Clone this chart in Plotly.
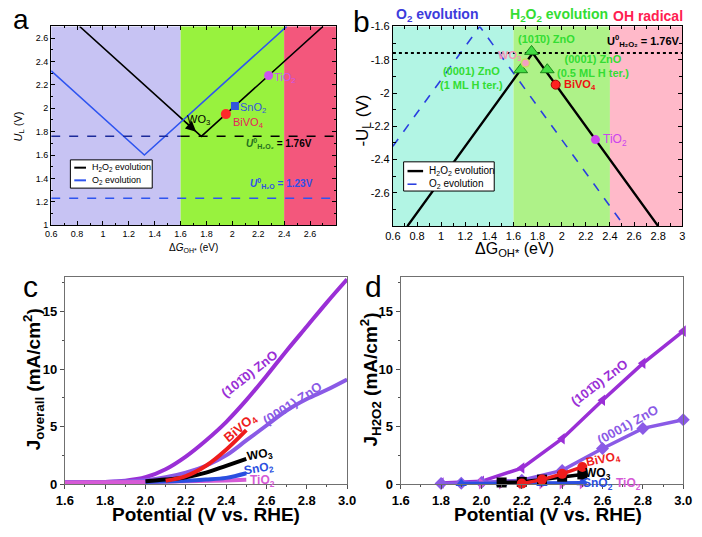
import plotly.graph_objects as go

# ---------------- data ----------------
# Panel a : limiting potential vs dG_OH*
a_h2o2_dG = [0.82, 1.76, 2.70]
a_h2o2_UL = [2.70, 1.76, 2.70]
a_o2_dG = [0.60, 1.32, 2.42]
a_o2_UL = [2.32, 1.60, 2.70]
a_mat_names = ["BiVO4", "SnO2", "TiO2"]
a_mat_dG = [1.95, 2.02, 2.28]
a_mat_UL = [1.95, 2.02, 2.28]
a_wo3_dG = 1.72
a_wo3_UL = 1.80
U0_H2O2 = 1.76
U0_H2O = 1.23
region_edges = [0.6, 1.6, 2.4, 3.0]

# Panel b : -U_L vs dG_OH*
b_h2o2_dG = [0.72, 1.76, 2.80]
b_h2o2_negUL = [-2.80, -1.76, -2.80]
b_o2_dG = [0.60, 1.32, 2.52]
b_o2_negUL = [-2.32, -1.60, -2.80]
b_zno_dG = [1.75, 1.66, 1.88]
b_zno_negUL = [-1.75, -1.86, -1.86]
b_wo3 = (1.70, -1.82)
b_bivo4 = (1.95, -1.95)
b_tio2 = (2.28, -2.28)

# Panel c : J_overall vs potential
c_1010_V = [1.6, 1.7, 1.8, 1.9, 2.0, 2.1, 2.2, 2.3, 2.4, 2.5, 2.6, 2.7, 2.8, 2.9, 3.0]
c_1010_J = [0.2, 0.2, 0.2, 0.3, 0.6, 1.3, 2.4, 3.8, 5.4, 7.3, 9.4, 11.6, 13.7, 15.8, 17.8]
c_0001_V = [1.6, 1.7, 1.8, 1.9, 2.0, 2.1, 2.2, 2.3, 2.4, 2.5, 2.6, 2.7, 2.8, 2.9, 3.0]
c_0001_J = [0.2, 0.2, 0.2, 0.25, 0.35, 0.6, 1.0, 1.6, 2.5, 3.8, 5.1, 6.4, 7.4, 8.2, 9.1]
c_bivo4_V = [2.1, 2.2, 2.3, 2.4, 2.5]
c_bivo4_J = [0.3, 0.7, 1.6, 3.0, 4.7]
c_wo3_V = [2.0, 2.1, 2.2, 2.3, 2.4, 2.5]
c_wo3_J = [0.25, 0.4, 0.6, 1.0, 1.6, 2.2]
c_sno2_V = [2.0, 2.2, 2.3, 2.4, 2.5]
c_sno2_J = [0.2, 0.3, 0.4, 0.55, 0.95]
c_tio2_V = [1.6, 2.0, 2.2, 2.4, 2.5]
c_tio2_J = [0.15, 0.2, 0.25, 0.33, 0.38]

# Panel d : J_H2O2 vs potential
d_1010_V = [1.8, 2.0, 2.2, 2.4, 2.6, 2.8, 3.0]
d_1010_J = [0.1, 0.25, 1.4, 3.95, 7.3, 10.5, 13.3]
d_0001_V = [1.8, 1.9, 2.0, 2.2, 2.4, 2.6, 2.8, 3.0]
d_0001_J = [0.05, 0.08, 0.15, 0.35, 1.2, 3.1, 4.85, 5.6]
d_bivo4_V = [2.2, 2.3, 2.4, 2.5]
d_bivo4_J = [0.05, 0.4, 0.9, 1.5]
d_wo3_V = [2.1, 2.2, 2.3, 2.4, 2.5]
d_wo3_J = [0.15, 0.2, 0.4, 0.65, 0.85]
d_sno2_V = [1.9, 2.1, 2.3, 2.5]
d_sno2_J = [0.05, 0.05, 0.05, 0.12]
d_tio2_V = [2.0, 2.1, 2.2, 2.3, 2.4, 2.5]
d_tio2_J = [0.05, 0.05, 0.05, 0.05, 0.05, 0.05]

# ---------------- styles ----------------
W, H = 702, 537
def px(x):
    return x / W
def py(y):
    return 1 - y / H

PURPLE = "#9a2fd6"
VIOLET = "#8a5ae6"
RED = "#ee1c1c"
BLUE = "#2a4fe0"
MAG = "#d65ad6"
GREEN_B = "#33dd33"
FAM = "Liberation Sans, Arial"

fig = go.Figure()

# ---- panel a ----
fig.add_trace(go.Scatter(x=a_h2o2_dG, y=a_h2o2_UL, mode="lines", line=dict(color="black", width=1.6),
                         showlegend=False, xaxis="x", yaxis="y"))
fig.add_trace(go.Scatter(x=a_o2_dG, y=a_o2_UL, mode="lines", line=dict(color="#2f55f0", width=1.6),
                         showlegend=False, xaxis="x", yaxis="y"))
fig.add_trace(go.Scatter(x=[region_edges[0], region_edges[1]], y=[U0_H2O2, U0_H2O2], mode="lines",
                         line=dict(color="#1c2a9a", width=1.4, dash="dash"), showlegend=False, xaxis="x", yaxis="y"))
fig.add_trace(go.Scatter(x=[region_edges[1], 2.8], y=[U0_H2O2, U0_H2O2], mode="lines",
                         line=dict(color="black", width=1.4, dash="dash"), showlegend=False, xaxis="x", yaxis="y"))
fig.add_trace(go.Scatter(x=[region_edges[0], 2.8], y=[U0_H2O, U0_H2O], mode="lines",
                         line=dict(color="#2f55f0", width=1.4, dash="dash"), showlegend=False, xaxis="x", yaxis="y"))
a_colors = ["#ff2a2a", "#3355dd", "#cc55ee"]
a_symbols = ["circle", "square", "circle"]
a_sizes = [10, 8, 9]
for i in range(3):
    fig.add_trace(go.Scatter(x=[a_mat_dG[i]], y=[a_mat_UL[i]], mode="markers",
                             marker=dict(color=a_colors[i], symbol=a_symbols[i], size=a_sizes[i]),
                             showlegend=False, xaxis="x", yaxis="y"))

# ---- panel b ----
fig.add_trace(go.Scatter(x=b_h2o2_dG, y=b_h2o2_negUL, mode="lines", line=dict(color="black", width=2.4),
                         showlegend=False, xaxis="x2", yaxis="y2"))
fig.add_trace(go.Scatter(x=b_o2_dG, y=b_o2_negUL, mode="lines", line=dict(color="#2a3fe0", width=1.6, dash="dash"),
                         showlegend=False, xaxis="x2", yaxis="y2"))
fig.add_trace(go.Scatter(x=[0.6, 3.0], y=[-U0_H2O2, -U0_H2O2], mode="lines",
                         line=dict(color="black", width=2, dash="dot"), showlegend=False, xaxis="x2", yaxis="y2"))
fig.add_trace(go.Scatter(x=b_zno_dG, y=b_zno_negUL, mode="markers",
                         marker=dict(color="#44dd44", symbol="triangle-up", size=12, line=dict(color="#1a8a1a", width=1)),
                         showlegend=False, xaxis="x2", yaxis="y2"))
fig.add_trace(go.Scatter(x=[b_wo3[0]], y=[b_wo3[1]], mode="markers",
                         marker=dict(color="#f4a0c0", symbol="circle", size=8, line=dict(color="#c8e060", width=1.5)),
                         showlegend=False, xaxis="x2", yaxis="y2"))
fig.add_trace(go.Scatter(x=[b_bivo4[0]], y=[b_bivo4[1]], mode="markers",
                         marker=dict(color="#ff2020", symbol="circle", size=9, line=dict(color="#a00000", width=1)),
                         showlegend=False, xaxis="x2", yaxis="y2"))
fig.add_trace(go.Scatter(x=[b_tio2[0]], y=[b_tio2[1]], mode="markers",
                         marker=dict(color="#cc44ee", symbol="circle", size=9),
                         showlegend=False, xaxis="x2", yaxis="y2"))

# ---- panel c ----
c_series = [
    (c_1010_V, c_1010_J, PURPLE),
    (c_0001_V, c_0001_J, VIOLET),
    (c_tio2_V, c_tio2_J, MAG),
    (c_sno2_V, c_sno2_J, BLUE),
    (c_wo3_V, c_wo3_J, "black"),
    (c_bivo4_V, c_bivo4_J, RED),
]
for xs, ys, col in c_series:
    fig.add_trace(go.Scatter(x=xs, y=ys, mode="lines", line=dict(color=col, width=4, shape="spline"),
                             showlegend=False, xaxis="x3", yaxis="y3", cliponaxis=False))

# ---- panel d ----
d_series = [
    (d_1010_V, d_1010_J, PURPLE, "triangle-left"),
    (d_0001_V, d_0001_J, VIOLET, "diamond"),
    (d_tio2_V, d_tio2_J, MAG, "triangle-right"),
    (d_sno2_V, d_sno2_J, BLUE, "triangle-up"),
    (d_wo3_V, d_wo3_J, "black", "square"),
    (d_bivo4_V, d_bivo4_J, RED, "circle"),
]
for xs, ys, col, sym in d_series:
    fig.add_trace(go.Scatter(x=xs, y=ys, mode="lines+markers", line=dict(color=col, width=3.5),
                             marker=dict(color=col, symbol=sym, size=10),
                             showlegend=False, xaxis="x4", yaxis="y4", cliponaxis=False))

# ---------------- background regions ----------------
shapes = []
a_fill = ["#c7c3f3", "#98f23e", "#f3577c"]
b_fill = ["#b2f5e4", "#aef288", "#ffb9c9"]
for i in range(3):
    shapes.append(dict(type="rect", xref="x", yref="y domain", x0=region_edges[i], x1=region_edges[i + 1],
                       y0=0, y1=1, fillcolor=a_fill[i], line=dict(width=0), layer="below"))
    shapes.append(dict(type="rect", xref="x2", yref="y2 domain", x0=region_edges[i], x1=region_edges[i + 1],
                       y0=0, y1=1, fillcolor=b_fill[i], line=dict(width=0), layer="below"))

# ---------------- annotations ----------------
ann = []
def A(x, y, text, xref, yref, size, color="black", bold=False, angle=0, xanchor="center", **kw):
    f = dict(size=size, color=color, family=FAM)
    if bold:
        f["weight"] = "bold"
    d = dict(x=x, y=y, xref=xref, yref=yref, text=text, showarrow=False, font=f, textangle=angle,
             xanchor=xanchor, yanchor="middle")
    d.update(kw)
    ann.append(d)

# manual legends (box + sample lines + text)
def legend_box(x0, y0, x1, y1, items, fsize, seg):
    shapes.append(dict(type="rect", xref="paper", yref="paper", x0=px(x0), x1=px(x1), y0=py(y1), y1=py(y0),
                       fillcolor="white", line=dict(color="black", width=1), layer="above"))
    for (yy, color, dash, width, label) in items:
        shapes.append(dict(type="line", xref="paper", yref="paper", x0=px(x0 + 4), x1=px(x0 + 4 + seg),
                           y0=py(yy), y1=py(yy), line=dict(color=color, width=width, dash=dash), layer="above"))
        A(px(x0 + 8 + seg), py(yy), label, "paper", "paper", fsize, xanchor="left")

legend_box(63, 158, 147, 187, [
    (166, "black", "solid", 2, "H<sub>2</sub>O<sub>2</sub> evolution"),
    (179, "#2f55f0", "solid", 2, "O<sub>2</sub> evolution"),
], 9, 12)
legend_box(405, 160, 498, 190, [
    (169.5, "black", "solid", 2.4, "H<sub>2</sub>O<sub>2</sub> evolution"),
    (183, "#2a3fe0", "dash", 1.6, "O<sub>2</sub> evolution"),
], 10, 16)

# panel letters
A(px(12), py(14), "a", "paper", "paper", 28)
A(px(362), py(16), "b", "paper", "paper", 30)
A(px(22), py(288), "c", "paper", "paper", 30)
A(px(374), py(288), "d", "paper", "paper", 30)

# panel a texts
A(2.045, 2.00, "SnO<sub>2</sub>", "x", "y", 11, "#3355dd", xanchor="left")
A(1.99, 1.875, "BiVO<sub>4</sub>", "x", "y", 11, "#e8205a", xanchor="left")
A(2.305, 2.255, "TiO<sub>2</sub>", "x", "y", 11, "#cc55ee", xanchor="left")
A(1.74, 1.90, "WO<sub>3</sub>", "x", "y", 11, "black")
ann.append(dict(x=a_wo3_dG, y=a_wo3_UL, ax=1.63, ay=1.89, xref="x", yref="y", axref="x", ayref="y",
                text="", showarrow=True, arrowhead=2, arrowsize=1.6, arrowwidth=1.3, arrowcolor="black"))
A(2.36, 1.695, "<span style='color:#1f6e1f'><i>U</i><sup>0</sup><sub>H₂O₂</sub></span> = 1.76V", "x", "y", 10, "black", bold=True)
A(2.38, 1.355, "<i>U</i><sup>0</sup><sub>H₂O</sub> = 1.23V", "x", "y", 10, "#2f4fe8", bold=True)
A(px(189), py(248), "Δ<i>G</i><sub>OH*</sub> (eV)", "paper", "paper", 10)
A(px(10), py(124), "<i>U</i><sub>L</sub> (V)", "paper", "paper", 11, angle=-90)

# panel b texts
A(px(439), py(9), "O<sub>2</sub> evolution", "paper", "paper", 14, "#3c3cdc", bold=True)
A(px(564), py(9), "H<sub>2</sub>O<sub>2</sub> evolution", "paper", "paper", 14, GREEN_B, bold=True)
A(px(656), py(10), "OH radical", "paper", "paper", 14, "#ff2050", bold=True)
A(1.87, -1.675, "(101\u03040) ZnO", "x2", "y2", 11, GREEN_B, bold=True)
A(1.25, -1.91, "(0001) ZnO<br>(1 ML H ter.)", "x2", "y2", 11, GREEN_B, bold=True)
A(2.26, -1.835, "(0001) ZnO<br>(0.5 ML H ter.)", "x2", "y2", 11, GREEN_B, bold=True)
A(1.57, -1.775, "WO<sub>3</sub>", "x2", "y2", 11, "#f59ab8", bold=True)
A(2.15, -1.95, "BiVO<sub>4</sub>", "x2", "y2", 11, "#ee1111", bold=True)
A(2.44, -2.28, "TiO<sub>2</sub>", "x2", "y2", 12, "#cc44ee")
A(2.68, -1.69, "U<sup>0</sup><sub>H₂O₂</sub> = 1.76V", "x2", "y2", 11, "black", bold=True)
A(px(519), py(250), "ΔG<sub>OH*</sub> (eV)", "paper", "paper", 16)
A(px(364), py(118), "-U<sub>L</sub> (V)", "paper", "paper", 17, angle=-90)

# panel c texts
A(2.518, 9.6, "(101\u03040) ZnO", "x3", "y3", 13, PURPLE, bold=True, angle=-38)
A(2.728, 7.0, "(0001) ZnO", "x3", "y3", 13, VIOLET, bold=True, angle=-33)
A(2.476, 4.9, "BiVO<sub>4</sub>", "x3", "y3", 13, RED, bold=True, angle=-40)
A(2.57, 2.55, "WO<sub>3</sub>", "x3", "y3", 12, "black", bold=True, angle=-10)
A(2.565, 1.35, "SnO<sub>2</sub>", "x3", "y3", 12, BLUE, bold=True, angle=-10)
A(2.58, 0.25, "TiO<sub>2</sub>", "x3", "y3", 12, MAG, bold=True)
A(px(202), py(522), "Potential (V vs. RHE)", "paper", "paper", 19, bold=True)
A(px(25), py(383), "J<sub>overall</sub> (mA/cm<sup>2</sup>)", "paper", "paper", 19, bold=True, angle=-90)

# panel d texts
A(2.585, 8.8, "(101\u03040) ZnO", "x4", "y4", 13, PURPLE, bold=True, angle=-37)
A(2.726, 5.2, "(0001) ZnO", "x4", "y4", 13, VIOLET, bold=True, angle=-29)
A(2.60, 2.1, "BiVO<sub>4</sub>", "x4", "y4", 12, RED, bold=True, angle=-12)
A(2.58, 0.85, "WO<sub>3</sub>", "x4", "y4", 12, "black", bold=True)
A(px(604), py(491), "SnO<sub>2</sub>", "paper", "paper", 12, BLUE, bold=True)
A(px(636), py(491), "TiO<sub>2</sub>", "paper", "paper", 12, MAG, bold=True)
A(px(553), py(522), "Potential (V vs. RHE)", "paper", "paper", 19, bold=True)
A(px(371), py(383), "J<sub>H2O2</sub> (mA/cm<sup>2</sup>)", "paper", "paper", 19, bold=True, angle=-90)

# ---------------- axes ----------------
def fmt(v):
    s = ("%.1f" % v)
    if s.endswith(".0"):
        s = s[:-2]
    return s

a_xt = [0.6 + 0.2 * i for i in range(11)]
a_yt = [1.0 + 0.2 * i for i in range(9)]
b_xt = [0.6 + 0.2 * i for i in range(13)]
b_yt = [-2.6 + 0.2 * i for i in range(6)]

small_font = dict(size=9, family=FAM, color="black")
b_font = dict(size=11, family=FAM, color="black")
bold_font = dict(size=13, family=FAM, color="black", weight="bold")

common_in = dict(showline=True, linecolor="black", linewidth=1, mirror="ticks", ticks="inside",
                 ticklen=4, tickcolor="black", showgrid=False, zeroline=False)

fig.update_layout(
    width=W, height=H, margin=dict(l=0, r=0, t=0, b=0), showlegend=False,
    paper_bgcolor="white", plot_bgcolor="rgba(0,0,0,0)",
    xaxis=dict(domain=[px(43.3), px(335.5)], range=[0.6, 2.8], anchor="y",
               tickvals=a_xt, ticktext=[fmt(v) for v in a_xt], tickfont=small_font,
               minor=dict(dtick=0.1, ticks="inside", ticklen=2, tickcolor="black"), **common_in),
    yaxis=dict(domain=[py(225), py(21)], range=[1.0, 2.7], anchor="x",
               tickvals=a_yt, ticktext=[fmt(v) for v in a_yt], tickfont=small_font,
               minor=dict(dtick=0.1, ticks="inside", ticklen=2, tickcolor="black"), **common_in),
    xaxis2=dict(domain=[px(394), px(691)], range=[0.6, 3.0], anchor="y2",
                tickvals=b_xt, ticktext=[fmt(v) for v in b_xt], tickfont=b_font,
                minor=dict(dtick=0.1, ticks="inside", ticklen=3, tickcolor="black"), **common_in),
    yaxis2=dict(domain=[py(226), py(21)], range=[-2.8, -1.6], anchor="x2",
                tickvals=b_yt, ticktext=[fmt(v) for v in b_yt], tickfont=b_font,
                minor=dict(dtick=0.1, ticks="inside", ticklen=3, tickcolor="black"), **common_in),
)

common_out = dict(showline=True, linecolor="#707070", linewidth=1, mirror=True, ticks="outside",
                  ticklen=4, tickcolor="#505050", showgrid=False, zeroline=False, tickfont=bold_font)
for xa, ya, x0, x1 in [("xaxis3", "yaxis3", 57.3, 347), ("xaxis4", "yaxis4", 402, 692)]:
    xn = xa.replace("axis", "")
    yn = ya.replace("axis", "")
    fig.update_layout({
        xa: dict(domain=[px(x0), px(x1)], range=[1.6, 3.0], anchor=yn, tickvals=[1.6 + 0.2 * i for i in range(8)],
                 tickformat=".1f", minor=dict(dtick=0.1, ticks="outside", ticklen=2, tickcolor="#505050"),
                 **common_out),
        ya: dict(domain=[py(491), py(278.3)], range=[0, 18], anchor=xn, tickvals=[0, 5, 10, 15],
                 minor=dict(dtick=2.5, ticks="outside", ticklen=2, tickcolor="#505050"), **common_out),
    })

fig.update_layout(shapes=shapes, annotations=ann)

fig.write_html("out.html")
